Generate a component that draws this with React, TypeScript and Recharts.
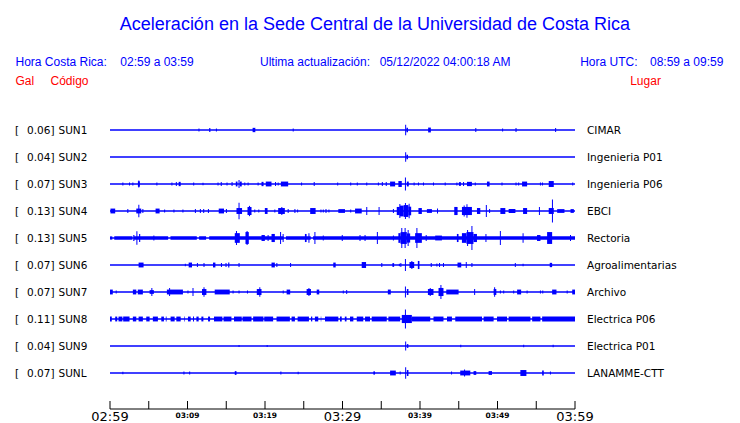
import { ComposedChart, Line, XAxis, YAxis, ReferenceArea } from 'recharts';

// station metadata, top to bottom
const STATION_CODES = ['SUN1', 'SUN2', 'SUN3', 'SUN4', 'SUN5', 'SUN6', 'SUN7', 'SUN8', 'SUN9', 'SUNL'];
const PEAK_GAL = [0.06, 0.04, 0.07, 0.13, 0.13, 0.07, 0.07, 0.11, 0.04, 0.07];
const PLACES = [
    'CIMAR',
    'Ingenieria P01',
    'Ingenieria P06',
    'EBCI',
    'Rectoria',
    'Agroalimentarias',
    'Archivo',
    'Electrica P06',
    'Electrica P01',
    'LANAMME-CTT',
];

// x axis: minutes after 02:59 (local)
const TICK_MINUTES = [0, 5, 10, 15, 20, 25, 30, 35, 40, 45, 50, 55, 60];
const TICK_LABELS = ['02:59', '', '03:09', '', '03:19', '', '03:29', '', '03:39', '', '03:49', '', '03:59'];

// bursts per trace: [start minute, end minute, half amplitude (row units)]
const SUN1_BURSTS = [
    [11.48, 11.48, 0.06], [12.8, 12.95, 0.07], [13.73, 13.73, 0.06], [18.4, 18.75, 0.08],
    [23.64, 23.64, 0.06], [38.15, 38.15, 0.19], [38.25, 38.45, 0.08], [41.05, 41.4, 0.09],
    [47.2, 47.2, 0.07], [50.66, 50.66, 0.06], [52.39, 52.39, 0.07], [57.5, 57.5, 0.07],
];
const SUN2_BURSTS = [[38.15, 38.15, 0.18], [38.25, 38.45, 0.08]];
const SUN3_BURSTS = [
    [1.66, 1.66, 0.06], [2.52, 2.52, 0.06], [2.95, 2.95, 0.06], [3.6, 3.85, 0.1], [3.72, 3.72, 0.13],
    [6.05, 6.05, 0.06], [7.99, 7.99, 0.06], [8.56, 8.56, 0.07], [8.86, 9.12, 0.08], [10.8, 10.8, 0.06],
    [12.0, 12.0, 0.05], [13.94, 13.94, 0.06], [14.29, 14.42, 0.07], [15.1, 15.1, 0.06], [15.75, 15.75, 0.07],
    [16.23, 16.45, 0.09], [16.65, 16.65, 0.15], [16.75, 17.0, 0.09], [17.39, 17.39, 0.06], [17.82, 17.82, 0.06],
    [19.11, 19.11, 0.06], [19.55, 19.81, 0.08], [20.1, 20.84, 0.09], [21.36, 21.36, 0.07], [21.7, 21.7, 0.06],
    [22.05, 22.99, 0.09], [24.72, 24.72, 0.06], [26.35, 26.35, 0.07], [29.38, 29.38, 0.06],
    [31.06, 31.06, 0.06], [31.91, 31.91, 0.06], [33.13, 33.13, 0.06], [34.63, 34.63, 0.06], [35.14, 35.14, 0.07],
    [35.58, 35.71, 0.07], [36.14, 36.79, 0.09], [37.21, 37.65, 0.11], [38.12, 38.12, 0.24], [38.3, 38.55, 0.09],
    [39.24, 39.24, 0.06], [39.8, 39.8, 0.06], [40.45, 40.45, 0.06], [41.74, 41.74, 0.06], [43.25, 43.25, 0.06],
    [44.76, 44.76, 0.06], [45.02, 45.28, 0.07], [45.62, 45.62, 0.07], [46.06, 46.7, 0.08], [47.13, 47.13, 0.06],
    [48.64, 48.98, 0.09], [50.58, 50.58, 0.06], [52.39, 52.39, 0.06], [52.73, 52.73, 0.06], [53.17, 53.82, 0.09],
    [55.54, 55.54, 0.06], [55.8, 55.8, 0.06], [56.61, 57.26, 0.11], [59.71, 59.71, 0.06],
];
const SUN4_BURSTS = [
    [0.06, 0.67, 0.09], [2.3, 2.3, 0.07], [3.39, 4.03, 0.09], [3.72, 3.72, 0.23], [4.24, 4.24, 0.07],
    [5.88, 6.4, 0.09], [7.05, 7.05, 0.06], [8.25, 8.25, 0.06], [9.41, 9.41, 0.06], [11.02, 11.02, 0.07],
    [11.66, 11.66, 0.07], [12.09, 12.09, 0.07], [12.7, 12.7, 0.07], [14.03, 14.71, 0.09], [15.02, 15.02, 0.07],
    [16.32, 17.04, 0.11], [16.65, 16.65, 0.31], [17.74, 18.26, 0.15], [18.0, 18.0, 0.19], [18.68, 18.68, 0.06],
    [19.2, 19.2, 0.06], [19.98, 20.33, 0.11], [21.27, 21.27, 0.06], [21.7, 22.56, 0.11], [22.17, 22.17, 0.15],
    [22.99, 22.99, 0.07], [23.86, 23.86, 0.07], [24.21, 24.21, 0.06], [25.83, 26.53, 0.11], [27.22, 27.22, 0.06],
    [27.52, 27.52, 0.06], [27.87, 27.87, 0.07], [28.25, 28.25, 0.06], [29.46, 30.32, 0.07],
    [31.06, 31.06, 0.06], [31.62, 32.48, 0.09], [33.13, 33.13, 0.15], [34.72, 34.72, 0.15], [36.57, 36.57, 0.07],
    [37.0, 37.4, 0.15], [37.4, 37.9, 0.2], [37.9, 38.5, 0.22], [38.5, 38.86, 0.16], [37.4, 37.4, 0.26],
    [38.12, 38.12, 0.3], [38.6, 38.6, 0.27], [39.8, 40.24, 0.11], [40.89, 41.54, 0.07], [42.26, 42.26, 0.09],
    [44.42, 44.85, 0.15], [45.41, 46.7, 0.15], [46.06, 46.06, 0.25], [45.7, 45.7, 0.2], [47.35, 47.78, 0.11],
    [48.56, 48.56, 0.22], [48.98, 48.98, 0.07], [50.37, 51.01, 0.11], [51.44, 52.31, 0.07], [53.3, 53.82, 0.11],
    [55.41, 55.41, 0.15], [56.61, 57.26, 0.11], [57.09, 57.09, 0.43], [57.7, 58.64, 0.07], [59.42, 59.85, 0.07],
];
const SUN5_BURSTS = [
    // background noise band
    [0, 0.3, 0.06], [0.55, 2.9, 0.065], [3.1, 7.5, 0.065], [7.8, 11.2, 0.065], [11.5, 12.4, 0.065],
    [12.8, 22.4, 0.065], [22.7, 25.9, 0.065], [26.2, 60, 0.065],
    [3.0, 3.15, 0.11], [3.47, 3.47, 0.25], [3.75, 3.9, 0.15], [5.66, 5.66, 0.09], [16.1, 16.75, 0.18],
    [16.32, 16.32, 0.26], [17.48, 17.91, 0.22], [17.69, 17.69, 0.26], [19.55, 19.98, 0.11], [20.4, 20.4, 0.11],
    [20.84, 21.27, 0.15], [22.01, 22.01, 0.22], [22.34, 22.34, 0.15], [25.15, 25.37, 0.15], [25.67, 25.67, 0.18],
    [26.44, 26.44, 0.22], [27.52, 27.52, 0.09], [29.97, 29.97, 0.11], [32.26, 32.26, 0.11], [32.91, 32.91, 0.11],
    [34.5, 34.5, 0.22], [36.57, 36.57, 0.09], [37.21, 37.5, 0.18], [37.5, 38.3, 0.22], [38.3, 38.73, 0.17],
    [37.65, 37.65, 0.37], [38.08, 38.08, 0.37], [38.47, 38.47, 0.3], [39.37, 40.24, 0.18], [39.6, 39.6, 0.37],
    [40.8, 40.8, 0.11], [41.96, 42.83, 0.09], [44.76, 44.97, 0.15], [45.41, 46.0, 0.18], [46.0, 46.9, 0.22],
    [46.9, 47.35, 0.15], [46.14, 46.14, 0.3], [46.7, 46.7, 0.44], [48.51, 48.51, 0.15], [50.37, 50.37, 0.26],
    [53.3, 53.3, 0.18], [55.1, 55.54, 0.11], [56.4, 57.05, 0.22], [59.42, 59.42, 0.11],
];
const SUN6_BURSTS = [
    [3.69, 4.33, 0.09], [9.72, 9.72, 0.05], [10.15, 10.58, 0.09], [11.28, 11.28, 0.07], [12.13, 12.13, 0.07],
    [13.29, 13.6, 0.09], [14.38, 14.38, 0.07], [14.97, 14.97, 0.07], [15.25, 15.4, 0.09], [16.65, 16.65, 0.07],
    [20.84, 21.27, 0.09], [21.53, 21.53, 0.07], [23.3, 23.3, 0.07], [28.81, 29.12, 0.09], [32.48, 33.04, 0.11],
    [35.07, 35.07, 0.07], [36.44, 36.66, 0.07], [37.34, 37.34, 0.05], [37.53, 37.53, 0.07], [38.12, 38.12, 0.22],
    [38.64, 39.25, 0.11], [38.95, 38.95, 0.15], [39.72, 39.93, 0.15], [41.45, 41.45, 0.07], [42.18, 42.18, 0.06],
    [42.52, 42.52, 0.07], [43.03, 43.03, 0.07], [44.84, 45.32, 0.09], [45.97, 45.97, 0.11], [46.7, 46.7, 0.07],
    [52.3, 52.3, 0.07], [53.3, 53.3, 0.05], [56.74, 57.05, 0.08],
];
const SUN7_BURSTS = [
    [0, 0.36, 0.09], [0.8, 0.8, 0.06], [2.95, 3.39, 0.09], [3.59, 4.24, 0.09], [5.11, 5.66, 0.07],
    [5.4, 5.4, 0.15], [7.34, 9.41, 0.09], [7.69, 7.69, 0.15], [10.06, 10.06, 0.06], [10.71, 10.71, 0.15],
    [11.87, 12.44, 0.11], [12.13, 12.13, 0.18], [13.51, 15.45, 0.09], [15.88, 15.88, 0.06], [16.65, 16.65, 0.06],
    [17.74, 17.74, 0.06], [18.94, 19.55, 0.11], [19.33, 19.33, 0.18], [22.35, 22.35, 0.06], [22.79, 23.25, 0.09],
    [25.37, 25.93, 0.11], [25.67, 25.67, 0.15], [26.67, 27.0, 0.09], [30.1, 30.1, 0.06], [30.54, 30.54, 0.07],
    [35.85, 36.23, 0.09], [38.12, 38.12, 0.2], [38.3, 38.51, 0.11], [41.02, 41.74, 0.11], [41.32, 41.32, 0.15],
    [42.39, 43.03, 0.15], [42.7, 42.7, 0.26], [43.39, 44.98, 0.09], [47.05, 47.05, 0.11], [49.5, 49.85, 0.11],
    [49.63, 49.63, 0.18], [50.37, 50.37, 0.06], [50.8, 50.8, 0.06], [52.09, 52.09, 0.06], [52.53, 53.05, 0.09],
    [53.82, 53.82, 0.06], [55.54, 55.54, 0.06], [55.84, 55.84, 0.06], [57.05, 57.61, 0.09], [58.99, 58.99, 0.06],
    [59.64, 60, 0.09],
];
const SUN8_BURSTS = [
    [0, 0.23, 0.09], [0.67, 0.93, 0.09], [1.1, 1.6, 0.09], [1.7, 2.52, 0.09], [2.95, 3.39, 0.09],
    [3.69, 4.24, 0.09], [4.68, 5.11, 0.09], [5.53, 6.18, 0.09], [6.62, 6.96, 0.09], [7.2, 7.3, 0.09],
    [7.82, 8.34, 0.09], [8.56, 9.12, 0.09], [9.6, 9.68, 0.09], [10.06, 10.41, 0.09], [10.71, 10.84, 0.09],
    [11.15, 11.44, 0.09], [11.79, 12.05, 0.09], [12.65, 12.91, 0.09], [13.42, 14.5, 0.09], [14.65, 15.67, 0.09],
    [16.0, 17.0, 0.09], [17.1, 18.26, 0.09], [18.47, 19.8, 0.09], [19.9, 21.05, 0.09], [21.49, 23.21, 0.09],
    [23.43, 23.86, 0.09], [24.21, 25.67, 0.09], [25.93, 26.1, 0.09], [26.44, 26.87, 0.09], [27.2, 27.26, 0.09],
    [27.74, 29.46, 0.09], [29.68, 29.9, 0.09], [30.3, 30.52, 0.09], [30.97, 31.4, 0.09], [31.84, 32.68, 0.09],
    [32.91, 33.55, 0.09], [33.77, 35.71, 0.09], [35.92, 37.44, 0.09], [37.65, 38.95, 0.15], [38.12, 38.12, 0.35],
    [38.95, 41.32, 0.09], [41.74, 43.03, 0.09], [43.48, 44.12, 0.09], [44.55, 48.0, 0.09], [48.21, 49.5, 0.09],
    [49.94, 51.23, 0.09], [51.44, 54.25, 0.09], [54.47, 55.54, 0.09], [55.76, 60, 0.09],
];
const SUN9_BURSTS = [
    [16.65, 16.65, 0.04], [20.28, 20.28, 0.04], [38.15, 38.15, 0.17], [38.3, 38.5, 0.07],
    [45.26, 45.26, 0.05], [53.38, 53.38, 0.05], [57.18, 57.18, 0.05],
];
const SUNL_BURSTS = [
    [1.66, 1.66, 0.05], [9.54, 9.54, 0.06], [10.28, 10.28, 0.06], [16.1, 16.32, 0.07], [22.05, 22.05, 0.06],
    [24.28, 24.28, 0.05], [33.98, 34.2, 0.06], [36.14, 36.88, 0.09], [37.44, 37.44, 0.06], [38.15, 38.15, 0.21],
    [38.3, 38.51, 0.11], [44.07, 44.07, 0.06], [45.19, 46.49, 0.09], [45.75, 45.75, 0.13], [46.91, 47.26, 0.07],
    [48.85, 49.29, 0.07], [52.95, 53.73, 0.11], [55.76, 55.97, 0.09], [56.83, 56.83, 0.06],
];

const TRACE_BURSTS = [
    SUN1_BURSTS, SUN2_BURSTS, SUN3_BURSTS, SUN4_BURSTS, SUN5_BURSTS,
    SUN6_BURSTS, SUN7_BURSTS, SUN8_BURSTS, SUN9_BURSTS, SUNL_BURSTS,
];

const BLUE = '#0000ff';
const RED = '#ff0000';
const SPIKE = 0.065; // half width of a single spike, in minutes

const StationTick = ({ y, payload }: any) => {
    const i = payload.value;
    const style = { fontFamily: '"DejaVu Sans"', fontSize: 10.5, fill: '#000' };
    return (
        <g>
            <text x={15} y={y + 4} style={style}>[</text>
            <text x={54.5} y={y + 4} textAnchor="end" style={style}>
                {PEAK_GAL[i].toFixed(2)}]
            </text>
            <text x={58.5} y={y + 4} style={style}>{STATION_CODES[i]}</text>
        </g>
    );
};

const PlaceTick = ({ x, y, payload }: any) => (
    <text x={x} y={y + 4} style={{ fontFamily: '"DejaVu Sans"', fontSize: 10.5, fill: '#000' }}>
        {PLACES[payload.value]}
    </text>
);

const TimeTick = ({ x, y, payload, index }: any) => {
    const label = TICK_LABELS[index];
    const major = payload.value % 30 === 0;
    return (
        <g>
            <line x1={x} x2={x} y1={y - 8} y2={y} stroke="#000" strokeWidth={1} />
            {label && (
                <text
                    x={x}
                    y={major ? y + 12 : y + 8.7}
                    textAnchor="middle"
                    style={{
                        fontFamily: '"DejaVu Sans"',
                        fontSize: major ? 13 : 7.5,
                        fontWeight: major ? 'normal' : 'bold',
                        fill: '#000',
                    }}
                >
                    {label}
                </text>
            )}
        </g>
    );
};

const Header = () => {
    const f = { fontFamily: '"Liberation Sans", Arial, sans-serif', fontSize: 12 };
    return (
        <svg
            width={740}
            height={423}
            style={{ position: 'absolute', left: 0, top: 0, pointerEvents: 'none' }}
        >
            <text x={375} y={30} textAnchor="middle" fill={BLUE} style={{ ...f, fontSize: 18 }}>
                Aceleración en la Sede Central de la Universidad de Costa Rica
            </text>
            <text x={15.5} y={66} fill={BLUE} style={f}>Hora Costa Rica:</text>
            <text x={120.3} y={66} fill={BLUE} style={f}>02:59 a 03:59</text>
            <text x={260} y={66} fill={BLUE} style={f}>Ultima actualización:</text>
            <text x={379.7} y={66} fill={BLUE} style={f}>05/12/2022 04:00:18 AM</text>
            <text x={580.2} y={66} fill={BLUE} style={f}>Hora UTC:</text>
            <text x={650} y={66} fill={BLUE} style={f}>08:59 a 09:59</text>
            <text x={15.5} y={85} fill={RED} style={f}>Gal</text>
            <text x={50.5} y={85} fill={RED} style={f}>Código</text>
            <text x={630.2} y={85} fill={RED} style={f}>Lugar</text>
        </svg>
    );
};

const rows = STATION_CODES.map((_, i) => i);

const App = () => {
    return (
        <div style={{ position: 'absolute', left: 0, top: 0, width: 740, height: 423, background: '#fff' }}>
            <ComposedChart
                width={740}
                height={423}
                margin={{ top: 103, right: 0, bottom: 0, left: 0 }}
            >
                <XAxis
                    type="number"
                    dataKey="t"
                    domain={[0, 60]}
                    ticks={TICK_MINUTES}
                    allowDataOverflow
                    height={14}
                    axisLine={{ stroke: '#000', strokeWidth: 1 }}
                    tickLine={false}
                    tickSize={0}
                    tickMargin={0}
                    interval={0}
                    tick={<TimeTick />}
                />
                <YAxis
                    type="number"
                    domain={[-1, 10 + 1 / 3]}
                    ticks={rows}
                    reversed
                    allowDataOverflow
                    width={110}
                    axisLine={false}
                    tickLine={false}
                    interval={0}
                    tick={<StationTick />}
                />
                <YAxis
                    yAxisId="right"
                    orientation="right"
                    type="number"
                    domain={[-1, 10 + 1 / 3]}
                    ticks={rows}
                    reversed
                    allowDataOverflow
                    width={165}
                    axisLine={false}
                    tickLine={false}
                    tickSize={0}
                    tickMargin={12}
                    interval={0}
                    tick={<PlaceTick />}
                />
                {rows.map((i) => (
                    <Line
                        key={STATION_CODES[i]}
                        data={[
                            { t: 0, v: i },
                            { t: 60, v: i },
                        ]}
                        dataKey="v"
                        stroke={BLUE}
                        strokeWidth={1.3}
                        dot={false}
                        activeDot={false}
                        isAnimationActive={false}
                    />
                ))}
                {TRACE_BURSTS.map((bursts, i) =>
                    bursts.map(([t0, t1, amp], k) => (
                        <ReferenceArea
                            key={`${i}-${k}`}
                            x1={t1 > t0 ? t0 : t0 - SPIKE}
                            x2={t1 > t0 ? t1 : t0 + SPIKE}
                            y1={i - amp}
                            y2={i + amp}
                            fill={BLUE}
                            fillOpacity={1}
                            stroke="none"
                            ifOverflow="visible"
                        />
                    )),
                )}
            </ComposedChart>
            <Header />
        </div>
    );
};

export default App;
